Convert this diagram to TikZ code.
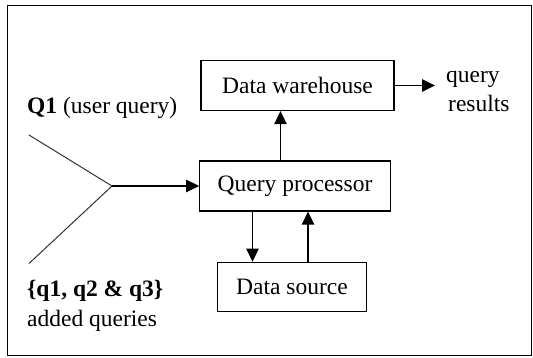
\documentclass[tikz,border=0pt]{standalone}
\usepackage{fontspec}
\setmainfont{Liberation Serif}
\usetikzlibrary{arrows.meta}
\begin{document}
\begin{tikzpicture}[x=1pt,y=-1pt,
  box/.style={draw,line width=1.3pt,inner sep=0pt,font=\fontsize{23.5}{29}\selectfont},
  lbl/.style={inner sep=0pt,font=\fontsize{23.5}{29}\selectfont},
  arr/.style={line width=1.3pt,-{Triangle[length=13pt,width=12.5pt]}},
  fork/.style={line width=1pt,draw=black!80}]
\useasboundingbox (0,0) rectangle (533,358);
\draw[line width=1pt] (7.5,6) rectangle (531,355);
\node[box,minimum width=193pt,minimum height=50pt] (dw) at (297.5,85.5) {Data warehouse};
\node[box,minimum width=190.5pt,minimum height=50pt] (qp) at (295,186) {Query processor};
\node[box,minimum width=149.5pt,minimum height=49.5pt] (ds) at (292,287) {Data source};
\node[lbl,anchor=west,align=left] (qres) at (446,91) {query\\\hspace*{2pt}results};
\coordinate (fk) at (112,186);
\coordinate (ft) at (29,135);
\coordinate (fb) at (29,263.5);
\node[lbl,anchor=west] (q1) at (27,108) {\textbf{Q1} (user query)};
\node[lbl,anchor=west] (qs) at (27,291) {\textbf{\{q1, q2 \& q3\}}};
\node[lbl,anchor=west] (aq) at (27,321) {added queries};
\draw[fork] (ft) -- (fk) -- (fb);
\draw[arr] (fk) -- (qp.west);
\draw[arr] (qp.north -| 280.5,0) -- (dw.south -| 280.5,0);
\draw[arr] (dw.east) -- ([xshift=-11pt]dw.east -| qres.west);
\draw[arr] (qp.south -| 252.5,0) -- (ds.north -| 252.5,0);
\draw[arr] (ds.north -| 308,0) -- (qp.south -| 308,0);
\end{tikzpicture}
\end{document}
